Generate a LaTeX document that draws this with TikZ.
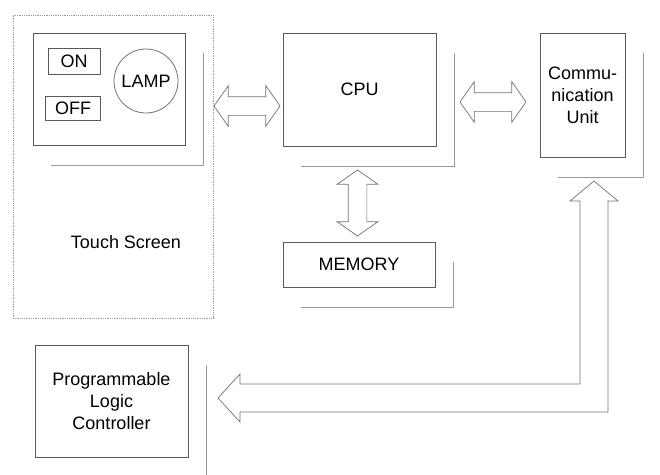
\documentclass[tikz,border=0pt]{standalone}
\usepackage{fontspec}
\setmainfont{Liberation Sans}
\usetikzlibrary{shapes.geometric,shapes.arrows,calc}
\newcommand\boxshadow[1]{\draw[shade] ([shift={(18,20)}]#1.north east) -- ([shift={(18,20)}]#1.south east) -- ([shift={(18,20)}]#1.south west);}
\begin{document}
\begin{tikzpicture}[x=1pt,y=-1pt,
  box/.style={draw=black!65, line width=0.8pt, rectangle, inner sep=0pt},
  shade/.style={draw=black!40, line width=0.8pt},
  fatarrow/.style={double arrow, draw=black!55, line width=0.7pt, fill=white, inner xsep=0pt, inner ysep=9pt, text height=0pt, text depth=0pt, double arrow head extend=11pt, double arrow tip angle=110, minimum height=66pt},
  fatline/.style={draw=black!55, line width=0.7pt, fill=white, line join=miter},
  lbl/.style={font=\fontsize{18}{22}\selectfont, align=center, text=black}]
\useasboundingbox (0,0) rectangle (660,474);
% Touch screen
\node[box, draw=black!40, densely dotted, minimum width=200pt, minimum height=303pt] (ts) at (113,166.5) {};
\node[lbl] (tslabel) at (126,242) {Touch Screen};
\node[box, minimum width=152pt, minimum height=112pt] (panel) at (109,89) {};
\boxshadow{panel}
\node[box, lbl, minimum width=52pt, minimum height=26pt] (on) at (74,61) {ON};
\node[box, lbl, minimum width=55pt, minimum height=24pt] (off) at (73,108) {OFF};
\node[circle, draw=black!55, line width=0.8pt, inner sep=0pt, minimum size=64pt, lbl] (lamp) at (146,81) {LAMP};
% CPU
\node[box, lbl, minimum width=153pt, minimum height=113pt] (cpu) at (359.5,89.5) {CPU};
\boxshadow{cpu}
% Communication unit
\node[box, lbl, minimum width=85pt, minimum height=124pt] (comm) at (582.5,95) {Commu-\\nication\\Unit};
\boxshadow{comm}
% Memory
\node[box, lbl, minimum width=152pt, minimum height=45pt] (mem) at (359,264.5) {MEMORY};
\boxshadow{mem}
% PLC
\node[box, lbl, minimum width=153pt, minimum height=112pt] (plc) at (111.5,401) {Programmable\\Logic\\Controller};
\boxshadow{plc}
% block arrows
\node[fatarrow] (a1) at (247,106) {};
\node[fatarrow] (a2) at (493,102) {};
\node[fatarrow, rotate=90] (a3) at (357.5,203) {};
\coordinate (busTop) at (594,181);
\coordinate (busLeft) at (218,398);
\draw[fatline] (busTop) -- ++(24,20) -- ++(-10,0) -- (608,412) -- (240,412) -- ++(0,10) -- (busLeft) -- ++(22,-24) -- ++(0,10) -- (580,384) -- (580,201) -- ++(-10,0) -- cycle;
\end{tikzpicture}
\end{document}
